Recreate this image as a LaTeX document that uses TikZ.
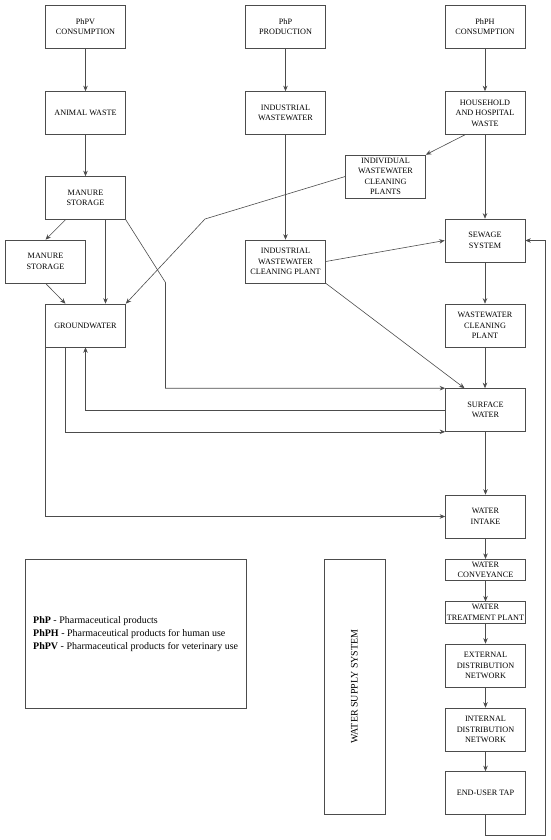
\documentclass[tikz,border=0pt]{standalone}
\usepackage{fontspec}
\setmainfont{Liberation Serif}
\usetikzlibrary{arrows.meta}

\begin{document}
\begin{tikzpicture}[
  x=1pt, y=-1pt,
  font=\fontsize{8.2}{10.5}\selectfont,
  every node/.style={align=center},
  box/.style={draw=black!70, line width=0.6pt, minimum width=80pt,
              minimum height=43pt, inner sep=0.5pt},
  slim/.style={box, minimum height=21.5pt},
  flow/.style={draw=black!70, line width=0.6pt, -{Stealth[length=5.5pt,width=4.5pt]}},
  link/.style={draw=black!70, line width=0.6pt}
]
\useasboundingbox (0,0) rectangle (550,840);

% ====================== VETERINARY ======================
\node[box] (phpv)    at (85.5,26.5)  {PhPV\\CONSUMPTION};
\node[box] (animal)  at (85.5,113)   {ANIMAL WASTE};
\node[box] (manure)  at (85.5,198)   {MANURE\\STORAGE};
\node[box] (manureB) at (45.5,261.5) {MANURE\\STORAGE};
\node[box] (ground)  at (85.5,325.5) {GROUNDWATER};

% ====================== INDUSTRY ======================
\node[box] (php)   at (285.5,26.5)  {PhP\\PRODUCTION};
\node[box] (indww) at (285.5,113)   {INDUSTRIAL\\WASTEWATER};
\node[box] (indcp) at (285.5,261.5) {INDUSTRIAL\\WASTEWATER\\CLEANING PLANT};

% ====================== HUMAN USE ======================
\node[box] (phph)    at (485,26.5)   {PhPH\\CONSUMPTION};
\node[box] (house)   at (485,113)    {HOUSEHOLD\\AND HOSPITAL\\WASTE};
\node[box] (indiv)   at (385.5,176.5) {INDIVIDUAL\\WASTEWATER\\CLEANING\\PLANTS};
\node[box] (sewage)  at (485,240.5)  {SEWAGE\\SYSTEM};
\node[box] (wwcp)    at (485,325.5)  {WASTEWATER\\CLEANING\\PLANT};
\node[box] (surface) at (485.5,410)  {SURFACE\\WATER};

% ====================== WATER SUPPLY ======================
\node[box]  (intake) at (485.5,516.5) {WATER\\INTAKE};
\node[slim] (convey) at (485.5,570)   {WATER\\CONVEYANCE};
\node[slim] (treat)  at (485.5,612.5) {WATER\\TREATMENT PLANT};
\node[box]  (extnet) at (485.5,665.5) {EXTERNAL\\DISTRIBUTION\\NETWORK};
\node[box]  (intnet) at (485.5,729.5) {INTERNAL\\DISTRIBUTION\\NETWORK};
\node[box]  (tap)    at (485.5,793)   {END-USER TAP};

\node[box, rotate=90, minimum width=255pt, minimum height=61pt,
      font=\fontsize{10}{12}\selectfont] (supply) at (354.5,686.5) {WATER SUPPLY SYSTEM};

% Legend
\node[box, minimum width=221pt, minimum height=149pt] (legend) at (135.5,633.5) {};
\node[anchor=west, align=left, inner sep=0pt,
      font=\fontsize{10}{13.3}\selectfont] (legendtext) at (33,634)
  {\textbf{PhP} - Pharmaceutical products\\
   \textbf{PhPH} - Pharmaceutical products for human use\\
   \textbf{PhPV} - Pharmaceutical products for veterinary use};

% bend points
\coordinate (bendA) at (165.5,282.5);
\coordinate (bendB) at (205,219);
\coordinate (loopA) at (545.5,835);

% ====================== CONNECTORS ======================
\draw[flow] (phpv) -- (animal);
\draw[flow] (animal) -- (manure);
\draw[flow] ([xshift=-20pt]manure.south) -- (manureB.north);
\draw[flow] (manureB.south) -- ([xshift=-20pt]ground.north);
\draw[flow] ([xshift=20pt]manure.south) -- ([xshift=20pt]ground.north);
\draw[flow] (manure.south east) -- (bendA) |- (surface.north west);
\draw[flow] (indiv.west) -- (bendB) -- (ground.north east);

\draw[flow] (php) -- (indww);
\draw[flow] (indww) -- (indcp);
\draw[flow] (indcp.east) -- (sewage.west);
\draw[flow] (indcp.south east) -- ([xshift=-21pt]surface.north);

\draw[flow] (phph) -- (house);
\draw[flow] ([xshift=-20pt]house.south) -- (indiv.north east);
\draw[flow] (house) -- (sewage);
\draw[flow] (sewage) -- (wwcp);
\draw[flow] (wwcp.south) -- (wwcp.south |- surface.north);

\draw[flow] (surface.west) -| (ground.south);
\draw[flow] ([xshift=-20pt]ground.south) |- (surface.south west);
\draw[flow] (ground.south west) |- (intake.west);

\draw[flow] (surface) -- (intake);
\draw[flow] (intake) -- (convey);
\draw[flow] (convey) -- (treat);
\draw[flow] (treat) -- (extnet);
\draw[flow] (extnet) -- (intnet);
\draw[flow] (intnet) -- (tap);
\draw[flow] (tap.south) |- (loopA) |- (sewage.east);

\end{tikzpicture}
\end{document}
